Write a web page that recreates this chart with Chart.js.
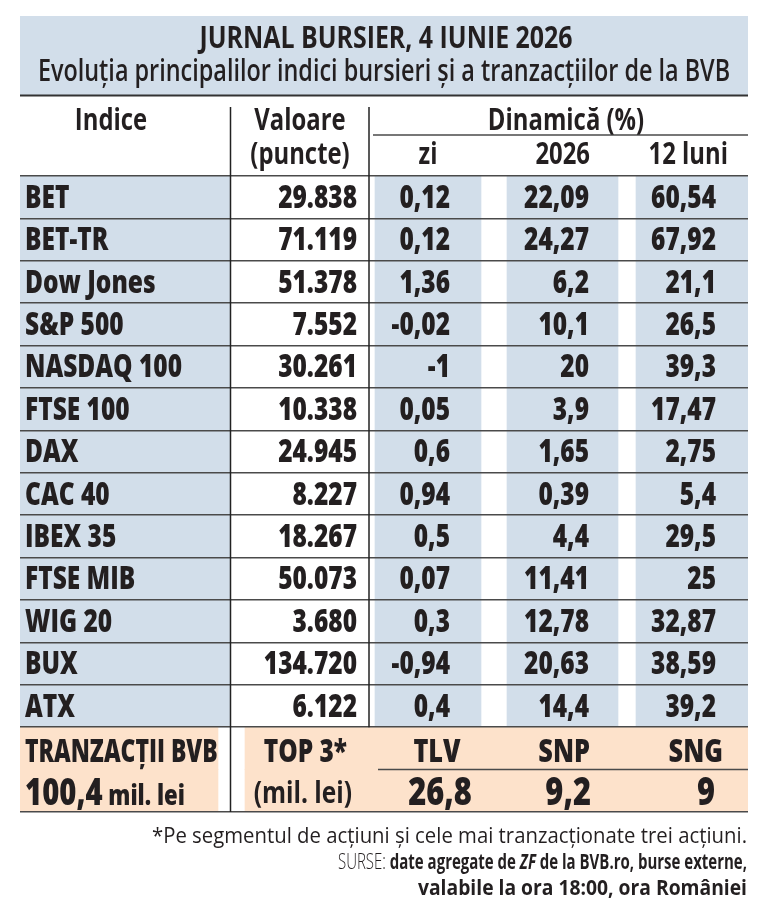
<!DOCTYPE html>
<html><head><meta charset="utf-8">
<script src="https://cdn.jsdelivr.net/npm/chart.js@4.4.0/dist/chart.umd.min.js"></script>
<style>html,body{margin:0;padding:0;background:#fff}canvas{display:block}</style>
</head><body>
<canvas id="c" width="768" height="922"></canvas>
<script>
// ---------- DATA ----------
const titleText = 'JURNAL BURSIER, 4 IUNIE 2026';
const subtitleText = 'Evoluția principalilor indici bursieri și a tranzacțiilor de la BVB';
const headIndice = 'Indice';
const headValoare = ['Valoare', '(puncte)'];
const headDinamica = 'Dinamică (%)';
const headPeriods = ['zi', '2026', '12 luni'];
const indici = ['BET','BET-TR','Dow Jones','S&P 500','NASDAQ 100','FTSE 100','DAX','CAC 40','IBEX 35','FTSE MIB','WIG 20','BUX','ATX'];
const valoare = [29838, 71119, 51378, 7552, 30261, 10338, 24945, 8227, 18267, 50073, 3680, 134720, 6122];
const dinZi   = [0.12, 0.12, 1.36, -0.02, -1, 0.05, 0.6, 0.94, 0.5, 0.07, 0.3, -0.94, 0.4];
const din2026 = [22.09, 24.27, 6.2, 10.1, 20, 3.9, 1.65, 0.39, 4.4, 11.41, 12.78, 20.63, 14.4];
const din12l  = [60.54, 67.92, 21.1, 26.5, 39.3, 17.47, 2.75, 5.4, 29.5, 25, 32.87, 38.59, 39.2];
const footerRows = ['TRANZACȚII BVB', 'TOTAL'];
const tranzTotal = 100.4;
const tranzUnit = 'mil. lei';
const top3Label = ['TOP 3*', '(mil. lei)'];
const top3Sym = ['TLV', 'SNP', 'SNG'];
const top3Val = [26.8, 9.2, 9];
const note1 = '*Pe segmentul de acțiuni și cele mai tranzacționate trei acțiuni.';
const note2 = [['SURSE: ', 300, false], ['date agregate de ', 700, false], ['ZF', 700, true], [' de la BVB.ro, burse externe,', 700, false]];
const note3 = 'valabile la ora 18:00, ora României';

// ---------- STYLE / LAYOUT ----------
const BLUE = '#d2deea', ORANGE = '#fde2cb', INK = '#231f20', LINE = '#4a4a4a';
const FAM = '"Open Sans", "DejaVu Sans", sans-serif';
const SX = 0.79;
const L = 20, R = 748;
const colInd = [20, 230], colZi = [375, 481], col26 = [507, 618], col12 = [636, 748];
const footA = [20, 218], footB = [245, 748];
const NOTE_W = [595, 409, 329];

const rows = indici.concat(footerRows);
const nData = indici.length;

function fmtInt(n){ return String(n).replace(/\B(?=(\d{3})+(?!\d))/g, '.'); }
function fmtDec(n){ return String(n).replace('.', ','); }

function natW(ctx, s, size, weight, italic){
  ctx.save();
  ctx.font = (italic ? 'italic ' : '') + weight + ' ' + size + 'px ' + FAM;
  const w = ctx.measureText(s).width;
  ctx.restore();
  return w;
}
function txt(ctx, s, x, y, o){
  o = o || {};
  const size = o.size || 31, weight = o.weight || 800, sx = o.sx || SX;
  ctx.save();
  ctx.font = (o.italic ? 'italic ' : '') + weight + ' ' + size + 'px ' + FAM;
  ctx.fillStyle = o.color || INK;
  ctx.textBaseline = 'alphabetic';
  ctx.textAlign = 'left';
  const w = ctx.measureText(s).width * sx;
  const x0 = o.align === 'right' ? x - w : o.align === 'center' ? x - w / 2 : x;
  ctx.translate(x0, y); ctx.scale(sx, 1); ctx.fillText(s, 0, 0);
  ctx.restore();
  return w;
}
// parts: [text, size, weight, italic]; optional fit width
function rich(ctx, parts, x, y, align, fitW){
  let nat = 0;
  parts.forEach(p => nat += natW(ctx, p[0], p[1], p[2], p[3]));
  const sx = fitW ? fitW / nat : SX;
  let cx = align === 'right' ? x - nat * sx : x;
  parts.forEach(p => { cx += txt(ctx, p[0], cx, y, {size: p[1], weight: p[2], italic: p[3], sx: sx}); });
}

// ---------- DATASETS (cell backgrounds) ----------
const isFoot = i => i >= nData;
const ds = [
  { label: 'Indice', data: rows.map((r, i) => isFoot(i) ? footA : colInd),
    backgroundColor: rows.map((r, i) => isFoot(i) ? ORANGE : BLUE) },
  { label: 'zi', data: rows.map((r, i) => isFoot(i) ? footB : colZi),
    backgroundColor: rows.map((r, i) => isFoot(i) ? ORANGE : BLUE) },
  { label: '2026', data: rows.map((r, i) => isFoot(i) ? null : col26), backgroundColor: BLUE },
  { label: '12 luni', data: rows.map((r, i) => isFoot(i) ? null : col12), backgroundColor: BLUE }
].map(d => Object.assign(d, { grouped: false, barPercentage: 1, categoryPercentage: 1, borderWidth: 0, borderSkipped: false }));

const tablePlugin = {
  id: 'tablePlugin',
  beforeDraw(chart){
    const ctx = chart.ctx;
    ctx.save();
    ctx.fillStyle = '#fff'; ctx.fillRect(0, 0, chart.width, chart.height);
    ctx.fillStyle = BLUE; ctx.fillRect(L, 16, R - L, 79);
    ctx.restore();
  },
  afterDraw(chart){
    const ctx = chart.ctx, y = chart.scales.y, x = chart.scales.x;
    const bot = chart.chartArea.bottom;
    const rc = i => y.getPixelForValue(i);
    const edge = i => (rc(i - 1) + rc(i)) / 2;
    const px = v => x.getPixelForValue(v);
    ctx.save();
    ctx.strokeStyle = '#333'; ctx.lineWidth = 2;
    ctx.beginPath(); ctx.moveTo(L, 95.5); ctx.lineTo(R, 95.5); ctx.stroke();
    ctx.strokeStyle = '#222'; ctx.lineWidth = 1.5;
    ctx.beginPath(); ctx.moveTo(px(230.5), 107); ctx.lineTo(px(230.5), bot); ctx.stroke();
    ctx.beginPath(); ctx.moveTo(px(369), 107); ctx.lineTo(px(369), edge(nData)); ctx.stroke();
    ctx.strokeStyle = LINE; ctx.lineWidth = 1.5;
    ctx.beginPath(); ctx.moveTo(px(373), 135); ctx.lineTo(R, 135); ctx.stroke();
    const fy = edge(nData + 1);
    ctx.beginPath(); ctx.moveTo(px(378), fy); ctx.lineTo(R, fy); ctx.stroke();
    ctx.restore();

    // title
    txt(ctx, titleText, 386, 48, {size: 30, weight: 700, sx: 0.83, align: 'center'});
    txt(ctx, subtitleText, 384, 81, {size: 30, weight: 600, sx: 0.78, align: 'center'});
    // headers
    const H = {size: 31, weight: 700, sx: 0.77};
    txt(ctx, headIndice, 111, 130, Object.assign({align: 'center'}, H));
    txt(ctx, headValoare[0], 300, 130, Object.assign({align: 'center'}, H));
    txt(ctx, headValoare[1], 300, 164, Object.assign({align: 'center'}, H));
    txt(ctx, headDinamica, 566, 130, Object.assign({align: 'center'}, H));
    txt(ctx, headPeriods[0], 428, 164, Object.assign({align: 'center'}, H));
    txt(ctx, headPeriods[1], 590, 164, Object.assign({align: 'right'}, H));
    txt(ctx, headPeriods[2], 728, 164, Object.assign({align: 'right'}, H));

    // data rows
    for (let i = 0; i < nData; i++) {
      const b = rc(i) + 10.5;
      txt(ctx, indici[i], px(25), b, {});
      txt(ctx, fmtInt(valoare[i]), px(357), b, {align: 'right'});
      txt(ctx, fmtDec(dinZi[i]), px(450), b, {align: 'right'});
      txt(ctx, fmtDec(din2026[i]), px(589), b, {align: 'right'});
      txt(ctx, fmtDec(din12l[i]), px(716), b, {align: 'right'});
    }
    // footer rows
    const b1 = rc(nData) + 14, b2 = rc(nData + 1) + 14.5;
    txt(ctx, footerRows[0], px(25), b1, {size: 31, sx: 0.74});
    txt(ctx, top3Label[0], px(347), b1, {size: 31, align: 'right'});
    txt(ctx, top3Sym[0], px(437), b1, {size: 32, align: 'center'});
    txt(ctx, top3Sym[1], px(590), b1, {size: 32, align: 'right'});
    txt(ctx, top3Sym[2], px(723), b1, {size: 32, align: 'right'});
    rich(ctx, [[fmtDec(tranzTotal), 37, 800, false], [' ' + tranzUnit, 28, 800, false]], px(25), b2, 'left');
    txt(ctx, top3Label[1], px(352), b2 - 2, {size: 31, weight: 700, align: 'right'});
    txt(ctx, fmtDec(top3Val[0]), px(440), b2, {size: 39, align: 'center'});
    txt(ctx, fmtDec(top3Val[1]), px(591), b2, {size: 39, align: 'right'});
    txt(ctx, fmtDec(top3Val[2]), px(715), b2, {size: 39, align: 'right'});

    // notes (fitted to the reference line widths)
    rich(ctx, [[note1, 22, 400, false]], 747, 843, 'right', NOTE_W[0]);
    rich(ctx, note2.map(p => [p[0], 22, p[1], p[2]]), 747, 869, 'right', NOTE_W[1]);
    rich(ctx, [[note3, 22, 700, false]], 747, 895, 'right', NOTE_W[2]);
  }
};

new Chart(document.getElementById('c'), {
  type: 'bar',
  data: { labels: rows, datasets: ds },
  options: {
    indexAxis: 'y',
    responsive: false,
    animation: false,
    devicePixelRatio: 1,
    layout: { padding: { left: L, right: 768 - R, top: 176, bottom: 922 - 812 } },
    plugins: { legend: { display: false }, tooltip: { enabled: false } },
    scales: {
      x: { type: 'linear', min: L, max: R, display: false },
      y: {
        type: 'category',
        display: true,
        afterFit: s => { s.width = 0; },
        ticks: { display: false },
        border: { display: false },
        grid: {
          offset: true, drawTicks: false, z: 1, lineWidth: 1.5,
          color: c => (c.index === nData + 1) ? 'rgba(0,0,0,0)' : LINE
        }
      }
    }
  },
  plugins: [tablePlugin]
});
</script>
</body></html>
